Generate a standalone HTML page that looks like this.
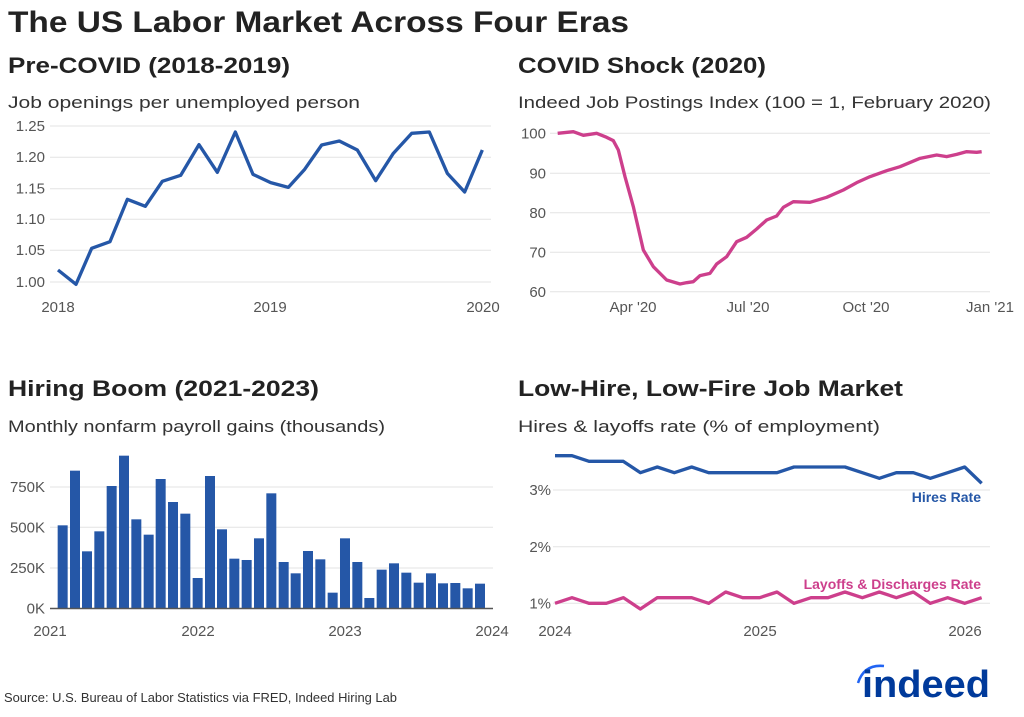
<!DOCTYPE html>
<html><head><meta charset="utf-8"><style>
html,body{margin:0;padding:0;background:#fff;}
svg{display:block;font-family:"Liberation Sans",sans-serif;}
.t{font-weight:bold;fill:#222;}
.s{fill:#333;font-size:17px;}
.k{fill:#555;font-size:15px;}
.g{stroke:#e3e3e3;stroke-width:1;}
</style></head><body>
<svg width="1024" height="717" viewBox="0 0 1024 717">
<text class="t" x="8" y="32" font-size="30" textLength="621" lengthAdjust="spacingAndGlyphs">The US Labor Market Across Four Eras</text>
<text class="t" x="8" y="73" font-size="22" textLength="282" lengthAdjust="spacingAndGlyphs">Pre-COVID (2018-2019)</text>
<text class="t" x="518" y="73" font-size="22" textLength="248" lengthAdjust="spacingAndGlyphs">COVID Shock (2020)</text>
<text class="t" x="8" y="396" font-size="22" textLength="311" lengthAdjust="spacingAndGlyphs">Hiring Boom (2021-2023)</text>
<text class="t" x="518" y="396" font-size="22" textLength="385" lengthAdjust="spacingAndGlyphs">Low-Hire, Low-Fire Job Market</text>
<text class="s" x="8" y="108" textLength="352" lengthAdjust="spacingAndGlyphs">Job openings per unemployed person</text>
<text class="s" x="518" y="108" textLength="473" lengthAdjust="spacingAndGlyphs">Indeed Job Postings Index (100 = 1, February 2020)</text>
<text class="s" x="8" y="432" textLength="377" lengthAdjust="spacingAndGlyphs">Monthly nonfarm payroll gains (thousands)</text>
<text class="s" x="518" y="432" textLength="362" lengthAdjust="spacingAndGlyphs">Hires &amp; layoffs rate (% of employment)</text>

<!-- Chart 1 -->
<g class="g">
<line x1="50" x2="491" y1="126" y2="126"/><line x1="50" x2="491" y1="157.3" y2="157.3"/>
<line x1="50" x2="491" y1="188.7" y2="188.7"/><line x1="50" x2="491" y1="219.3" y2="219.3"/>
<line x1="50" x2="491" y1="250.3" y2="250.3"/><line x1="50" x2="491" y1="282" y2="282"/>
</g>
<g class="k" text-anchor="end">
<text x="45" y="131">1.25</text><text x="45" y="162">1.20</text><text x="45" y="193.5">1.15</text>
<text x="45" y="224">1.10</text><text x="45" y="255">1.05</text><text x="45" y="287">1.00</text>
</g>
<g class="k" text-anchor="middle">
<text x="58" y="312">2018</text><text x="270" y="312">2019</text><text x="483" y="312">2020</text>
</g>
<g transform="translate(0 110) scale(0.33333)">
<polyline fill="none" stroke="#2557a7" stroke-width="10" stroke-linejoin="round" points="174,480 228,523 275,415 330,395 382,268 436,289 487,214 542,196 597,104 652,187 706,66 759,193 812,218 865,232 914,178 965,105 1018,93 1072,120 1127,212 1180,130 1235,70 1288,66 1342,190 1394,246 1447,120"/>
</g>

<!-- Chart 2 -->
<g class="g">
<line x1="550" x2="990" y1="133.3" y2="133.3"/><line x1="550" x2="990" y1="173.3" y2="173.3"/>
<line x1="550" x2="990" y1="212.7" y2="212.7"/><line x1="550" x2="990" y1="252.3" y2="252.3"/>
<line x1="550" x2="990" y1="291.7" y2="291.7"/>
</g>
<g class="k" text-anchor="end">
<text x="546" y="138.5">100</text><text x="546" y="178.5">90</text><text x="546" y="218">80</text>
<text x="546" y="257.5">70</text><text x="546" y="297">60</text>
</g>
<g class="k" text-anchor="middle">
<text x="633" y="312">Apr '20</text><text x="748" y="312">Jul '20</text><text x="866" y="312">Oct '20</text><text x="990" y="312">Jan '21</text>
</g>
<g transform="translate(510 110) scale(0.33333)">
<polyline fill="none" stroke="#cd3f8c" stroke-width="10" stroke-linejoin="round" points="143,70 190,65 220,76 260,70 290,82 310,92 325,120 345,200 370,290 400,420 430,470 470,510 510,522 530,518 550,515 570,497 600,490 620,462 650,440 680,395 710,382 740,357 770,330 800,318 820,292 850,275 900,277 950,262 1000,240 1040,218 1080,200 1130,182 1170,170 1230,145 1280,135 1310,140 1340,133 1370,125 1400,127 1415,125"/>
</g>

<!-- Chart 3 -->
<g class="g">
<line x1="50" x2="493" y1="487" y2="487"/><line x1="50" x2="493" y1="527.3" y2="527.3"/>
<line x1="50" x2="493" y1="568" y2="568"/>
</g>
<g class="k" text-anchor="end">
<text x="45" y="492">750K</text><text x="45" y="532.5">500K</text><text x="45" y="573">250K</text><text x="45" y="613.5">0K</text>
</g>
<g class="k" text-anchor="middle">
<text x="50" y="636">2021</text><text x="198" y="636">2022</text><text x="345" y="636">2023</text><text x="492" y="636">2024</text>
</g>
<g transform="translate(0 450) scale(0.33333)" fill="#2557a7">
<rect x="173" y="226" width="30" height="249"/><rect x="210" y="62" width="30" height="413"/>
<rect x="246" y="304" width="30" height="171"/><rect x="283" y="244" width="30" height="231"/>
<rect x="320" y="108" width="30" height="367"/><rect x="357" y="17" width="30" height="458"/>
<rect x="394" y="208" width="30" height="267"/><rect x="431" y="254" width="30" height="221"/>
<rect x="467" y="87" width="30" height="388"/><rect x="504" y="156" width="30" height="319"/>
<rect x="541" y="191" width="30" height="284"/><rect x="578" y="384" width="30" height="91"/>
<rect x="615" y="78" width="30" height="397"/><rect x="651" y="238" width="30" height="237"/>
<rect x="688" y="326" width="30" height="149"/><rect x="725" y="330" width="30" height="145"/>
<rect x="762" y="265" width="30" height="210"/><rect x="799" y="130" width="30" height="345"/>
<rect x="836" y="336" width="30" height="139"/><rect x="872" y="370" width="30" height="105"/>
<rect x="909" y="303" width="30" height="172"/><rect x="946" y="328" width="30" height="147"/>
<rect x="983" y="428" width="30" height="47"/><rect x="1020" y="265" width="30" height="210"/>
<rect x="1057" y="336" width="30" height="139"/><rect x="1093" y="444" width="30" height="31"/>
<rect x="1130" y="359" width="30" height="116"/><rect x="1167" y="340" width="30" height="135"/>
<rect x="1204" y="368" width="30" height="107"/><rect x="1241" y="398" width="30" height="77"/>
<rect x="1278" y="370" width="30" height="105"/><rect x="1314" y="400" width="30" height="75"/>
<rect x="1351" y="399" width="30" height="76"/><rect x="1388" y="415" width="30" height="60"/>
<rect x="1425" y="401" width="30" height="74"/>
</g>
<line x1="50" x2="493" y1="608.5" y2="608.5" stroke="#555" stroke-width="1.5"/>

<!-- Chart 4 -->
<g class="g">
<line x1="553" x2="990" y1="490" y2="490"/><line x1="553" x2="990" y1="546.7" y2="546.7"/>
<line x1="553" x2="990" y1="603.3" y2="603.3"/>
</g>
<g class="k" text-anchor="end">
<text x="551" y="495">3%</text><text x="551" y="552">2%</text><text x="551" y="608.5">1%</text>
</g>
<g class="k" text-anchor="middle">
<text x="555" y="636">2024</text><text x="760" y="636">2025</text><text x="965" y="636">2026</text>
</g>
<g transform="translate(510 440) scale(0.33333)" fill="none" stroke-width="10" stroke-linejoin="round">
<polyline stroke="#2557a7" points="135,47 186,47 237,64 289,64 340,64 391,98 442,81 493,98 545,81 596,98 647,98 698,98 749,98 801,98 852,81 903,81 954,81 1005,81 1057,98 1108,115 1159,98 1210,98 1261,115 1313,98 1364,81 1415,130"/>
<polyline stroke="#cd3f8c" points="135,490 186,473 237,490 289,490 340,473 391,507 442,473 493,473 545,473 596,490 647,456 698,473 749,473 801,456 852,490 903,473 954,473 1005,456 1057,473 1108,456 1159,473 1210,456 1261,490 1313,473 1364,490 1415,473"/>
</g>
<text x="981" y="502" text-anchor="end" font-size="14" font-weight="bold" fill="#2557a7">Hires Rate</text>
<text x="981" y="589" text-anchor="end" font-size="14" font-weight="bold" fill="#cd3f8c">Layoffs &amp; Discharges Rate</text>

<text x="4" y="702" font-size="13" fill="#333" textLength="393" lengthAdjust="spacingAndGlyphs">Source: U.S. Bureau of Labor Statistics via FRED, Indeed Hiring Lab</text>

<!-- logo -->
<path d="M858 683 Q864 664 884 666" fill="none" stroke="#2164f3" stroke-width="2.5"/>
<text x="862" y="697" font-size="38" font-weight="bold" fill="#003a9b" textLength="128" lengthAdjust="spacingAndGlyphs">indeed</text>
</svg>
</body></html>
